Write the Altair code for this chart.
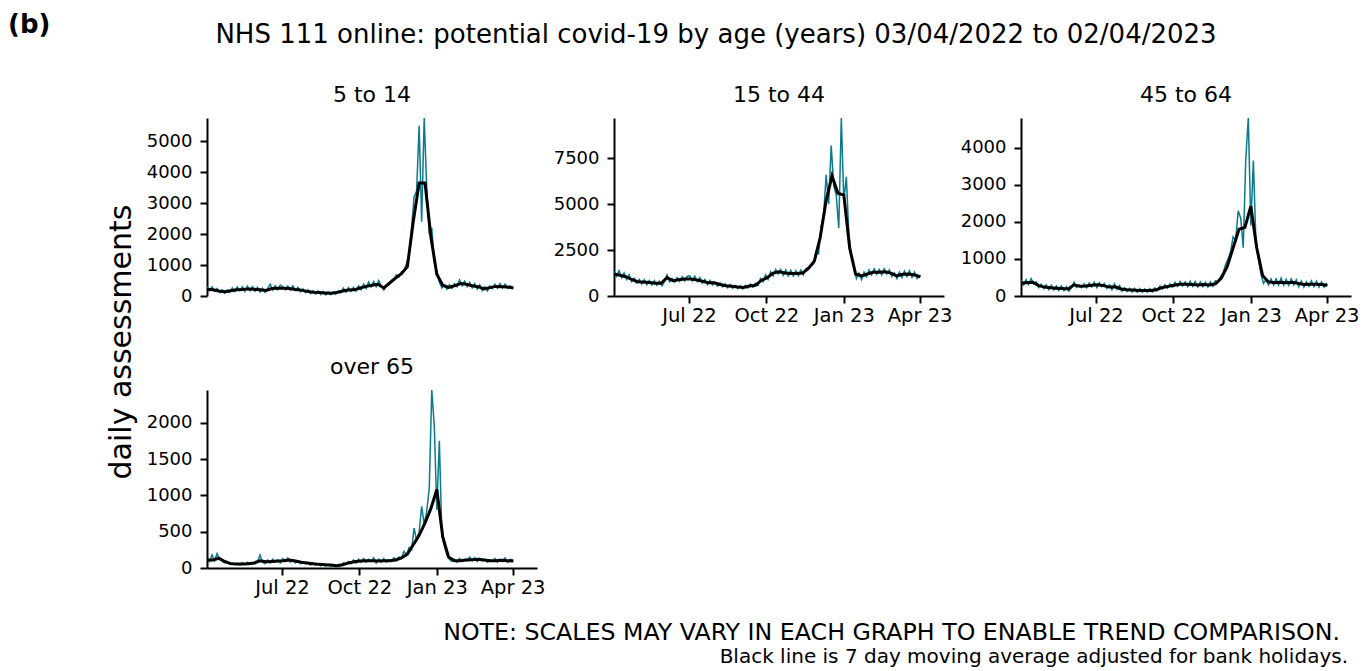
import altair as alt
import pandas as pd

FONT = "DejaVu Sans"
TEAL = "#0B7B8C"
START = pd.Timestamp("2022-04-03")

panel_titles = ["5 to 14", "15 to 44", "45 to 64", "over 65"]

# daily assessments, every 3rd day from 03/04/2022
daily_5_14 = [
    300, 170, 290, 150, 240, 110, 200, 90, 190, 120,
    260, 140, 290, 170, 300, 150, 320, 170, 300, 150,
    280, 130, 250, 120, 240, 380, 190, 330, 200, 350,
    300, 200, 320, 190, 330, 180, 280, 140, 230, 110,
    200, 80, 170, 60, 160, 50, 150, 40, 130, 40,
    120, 60, 160, 100, 250, 130, 270, 150, 280, 160,
    320, 200, 380, 240, 450, 290, 470, 300, 500, 330,
    200, 320, 380, 500, 520, 680, 620, 780, 820, 1050,
    1300, 2200, 3200, 3400, 5500, 2400, 5750, 3500, 2000, 2200,
    1100, 800, 450, 260, 350, 220, 360, 250, 400, 300,
    520, 330, 480, 300, 440, 260, 400, 220, 360, 180,
    300, 160, 320, 240, 380, 250, 400, 260, 380, 250,
    330, 230]
daily_15_44 = [
    1350, 1080, 1380, 1000, 1250, 900, 1150, 780, 960, 700,
    900, 650, 880, 620, 850, 600, 830, 580, 800, 560,
    800, 1150, 780, 950, 760, 1000, 800, 1050, 820, 1080,
    1100, 820, 1080, 780, 1000, 700, 900, 620, 850, 600,
    750, 540, 720, 500, 650, 450, 620, 420, 580, 400,
    560, 380, 580, 430, 650, 480, 700, 560, 950, 780,
    1150, 900, 1320, 1100, 1450, 1200, 1450, 1120, 1420, 1100,
    1400, 1080, 1380, 1100, 1420, 1150, 1500, 1550, 1650, 1750,
    2400, 2300, 3800, 4400, 6600, 5000, 8200, 6000, 5500, 3700,
    9700, 5200, 6500, 3300, 2200, 1500, 950, 1250, 900, 1300,
    1050, 1420, 1150, 1480, 1180, 1450, 1150, 1480, 1200, 1420,
    1050, 1250, 950, 1300, 1000, 1350, 1050, 1380, 1020, 1300,
    950, 1120]
daily_45_64 = [
    420, 300, 440, 310, 470, 330, 380, 230, 320, 200,
    300, 170, 290, 160, 270, 150, 270, 140, 250, 130,
    230, 370, 230, 300, 230, 330, 220, 350, 240, 370,
    230, 360, 250, 340, 200, 300, 170, 330, 180, 280,
    130, 220, 120, 210, 110, 200, 100, 200, 100, 190,
    100, 200, 110, 220, 150, 270, 190, 300, 210, 330,
    240, 370, 260, 390, 270, 380, 250, 400, 260, 390,
    240, 380, 250, 370, 240, 380, 260, 410, 380, 520,
    620, 850, 1000, 1200, 1600, 1500, 2300, 2100, 1300, 3700,
    4800, 1900, 3650, 1500, 1000, 600, 340, 440, 300, 460,
    300, 460, 300, 480, 290, 450, 290, 460, 300, 440,
    250, 400, 240, 380, 260, 410, 250, 400, 240, 380,
    240, 350]
daily_65 = [
    130, 90, 180, 100, 200, 120, 90, 70, 80, 50,
    70, 45, 60, 40, 70, 50, 80, 50, 70, 60,
    90, 180, 80, 60, 110, 70, 120, 80, 110, 70,
    130, 90, 140, 80, 110, 70, 100, 60, 80, 60,
    70, 40, 70, 40, 60, 30, 55, 30, 45, 25,
    40, 20, 35, 30, 70, 50, 90, 60, 110, 70,
    120, 80, 130, 80, 120, 90, 140, 70, 120, 80,
    130, 80, 110, 90, 140, 100, 150, 130, 230, 180,
    280, 250, 550, 380, 500, 850, 600, 780, 1100, 2450,
    1950, 800, 1750, 450, 300, 180, 120, 90, 120, 80,
    130, 90, 120, 100, 150, 100, 140, 90, 130, 100,
    120, 80, 110, 90, 130, 80, 120, 90, 140, 80,
    120, 110]

# 7 day moving average, weekly from 03/04/2022
avg_5_14 = [
    220, 200, 160, 140, 170, 200, 210, 230, 220, 200,
    180, 240, 250, 250, 240, 210, 190, 150, 120, 110,
    100, 90, 110, 160, 190, 200, 260, 310, 350, 380,
    260, 420, 580, 720, 950, 2400, 3650, 3650, 1900, 700,
    350, 280, 330, 400, 380, 330, 300, 230, 270, 310,
    300, 290, 260]
avg_15_44 = [
    1200, 1130, 1050, 900, 780, 760, 740, 700, 690, 1000,
    830, 880, 920, 930, 880, 800, 720, 720, 630, 560,
    530, 490, 470, 540, 580, 850, 1000, 1250, 1320, 1250,
    1220, 1230, 1250, 1500, 1900, 3200, 5200, 6550, 5600, 5500,
    2600, 1200, 1100, 1200, 1300, 1300, 1320, 1250, 1100, 1180,
    1200, 1150, 1050]
avg_45_64 = [
    350, 360, 370, 280, 240, 220, 210, 200, 190, 300,
    260, 270, 290, 300, 280, 240, 250, 190, 170, 160,
    150, 150, 150, 170, 230, 260, 290, 320, 320, 310,
    300, 310, 300, 330, 480, 800, 1300, 1800, 1850, 2420,
    1300, 550, 380, 360, 370, 360, 370, 340, 310, 320,
    320, 310, 290]
avg_65 = [
    110, 110, 135, 90, 60, 55, 55, 60, 70, 100,
    85, 90, 95, 100, 110, 95, 80, 70, 60, 50,
    45, 40, 30, 45, 70, 85, 95, 100, 100, 95,
    100, 100, 110, 140, 190, 320, 450, 620, 820, 1080,
    430, 150, 100, 100, 110, 115, 120, 110, 100, 100,
    105, 100, 95]

y_ticks_5_14 = [0, 1000, 2000, 3000, 4000, 5000]
y_ticks_15_44 = [0, 2500, 5000, 7500]
y_ticks_45_64 = [0, 1000, 2000, 3000, 4000]
y_ticks_65 = [0, 500, 1000, 1500, 2000]

x_tick_dates = [
    alt.DateTime(year=2022, month=7, date=1),
    alt.DateTime(year=2022, month=10, date=1),
    alt.DateTime(year=2023, month=1, date=1),
    alt.DateTime(year=2023, month=4, date=1),
]
x_domain = [alt.DateTime(year=2022, month=4, date=3),
            alt.DateTime(year=2023, month=4, date=30)]

main_title = "NHS 111 online: potential covid-19 by age (years) 03/04/2022 to 02/04/2023"
note_1 = "NOTE: SCALES MAY VARY IN EACH GRAPH TO ENABLE TREND COMPARISON."
note_2 = "Black line is 7 day moving average adjusted for bank holidays."

PW, PH = 330, 178


def series(vals, step):
    dates = [(START + pd.Timedelta(days=i * step)).strftime("%Y-%m-%dT00:00:00")
             for i in range(len(vals))]
    return pd.DataFrame({"date": dates, "value": vals})


def label(text, x, y, size, align="left", weight="normal", angle=0):
    return alt.Chart(pd.DataFrame({"t": [text]})).mark_text(
        text=text, fontSize=size, font=FONT, align=align, baseline="middle",
        fontWeight=weight, angle=angle, color="black"
    ).encode(x=alt.value(x), y=alt.value(y))


def panel(title, daily, avg, ticks, show_x, extras):
    if show_x:
        xaxis = alt.Axis(values=x_tick_dates, format="%b %y", labelFontSize=19.5,
                         tickSize=7, labelPadding=3, labelFont=FONT)
    else:
        xaxis = None
    xenc = alt.X("date:T", title=None, axis=xaxis,
                 scale=alt.Scale(domain=x_domain, nice=False))
    yenc = alt.Y("value:Q", title=None,
                 scale=alt.Scale(domain=[0, max(daily)], nice=False),
                 axis=alt.Axis(values=ticks, format="d", labelFontSize=18,
                               tickSize=7, labelPadding=8, labelFont=FONT))
    teal = alt.Chart(series(daily, 3)).mark_line(color=TEAL, strokeWidth=1.5).encode(x=xenc, y=yenc)
    black = alt.Chart(series(avg, 7)).mark_line(color="black", strokeWidth=3).encode(x=xenc, y=yenc)
    head = label(title, PW / 2, -23, 22, align="center")
    return alt.layer(teal, black, head, *extras).properties(width=PW, height=PH)


p1 = panel(panel_titles[0], daily_5_14, avg_5_14, y_ticks_5_14, False, [
    label("(b)", -199, -93, 26, weight="bold"),
    label(main_title, 509, -83, 26, align="center"),
    label("daily assessments", -85, 224, 30, align="center", angle=270),
])
p2 = panel(panel_titles[1], daily_15_44, avg_15_44, y_ticks_15_44, True, [])
p3 = panel(panel_titles[2], daily_45_64, avg_45_64, y_ticks_45_64, True, [])
p4 = panel(panel_titles[3], daily_65, avg_65, y_ticks_65, True, [
    label(note_1, 1133, 243, 23.7, align="right"),
    label(note_2, 1141, 267, 20, align="right"),
])

chart = alt.concat(
    p1, p2, p3, p4, columns=3,
    spacing={"row": 94, "column": 77}, bounds="flush",
).properties(
    padding={"top": 4, "left": 0, "right": 0, "bottom": 0}, background="white"
).configure_view(stroke=None).configure_axis(
    domainColor="black", tickColor="black", labelColor="black", grid=False,
    domainWidth=2, tickWidth=2,
)

chart.save("out.html", embed_options={"renderer": "svg", "actions": False})
